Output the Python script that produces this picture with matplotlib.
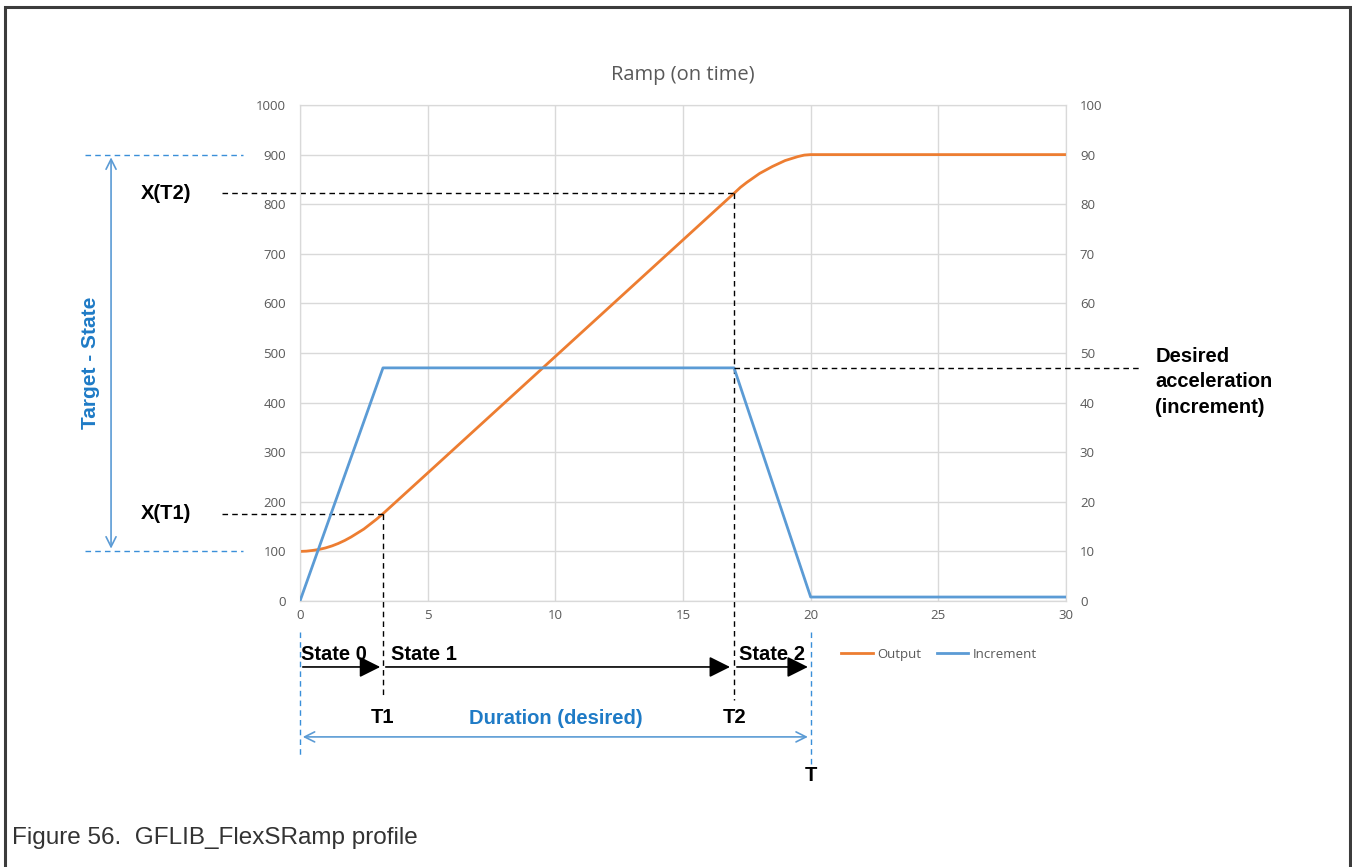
import matplotlib.pyplot as plt
from matplotlib.patches import Rectangle

# values
out_t = [0, 0.25, 0.5, 0.75, 1, 1.25, 1.5, 1.75, 2, 2.25, 2.5, 2.75, 3, 3.25, 5, 10, 15,
         17, 17.25, 17.5, 17.75, 18, 18.25, 18.5, 18.75, 19, 19.25, 19.5, 19.75, 20, 25, 30]
out_y = [100, 100.5, 102, 104, 107, 111, 116, 122, 129, 137, 145, 155, 165, 176, 258, 493, 728,
         822, 834, 844, 853, 862, 869, 876, 882, 888, 892, 896, 899, 900, 900, 900]
inc_t = [0, 3.25, 17.0, 20.0, 30]
inc_y = [0, 47, 47, 0.8, 0.8]

T1, T2, T_END = 3.25, 17.0, 20.0
X1, X2 = 176, 822
START, TARGET = 100, 900
INC_LEVEL = 47

ORANGE = '#ED7D31'
BLUE = '#5B9BD5'
DASH_BLUE = '#3A8FD9'
TXT_BLUE = '#1F7BC6'
GRID = '#D9D9D9'
GRAY = '#595959'

fig = plt.figure(figsize=(13.52, 8.67), dpi=100)
ax = fig.add_axes([300 / 1352, 1 - 601 / 867, 766 / 1352, 496 / 867])
ax2 = ax.twinx()

ax.plot(out_t, out_y, color=ORANGE, lw=2, label='Output', zorder=3)
ax2.plot(inc_t, inc_y, color=BLUE, lw=2, label='Increment', zorder=3)

ax.set_xlim(0, 30)
ax.set_ylim(0, 1000)
ax2.set_ylim(0, 100)
ax.set_xticks(range(0, 31, 5))
ax.set_yticks(range(0, 1001, 100))
ax2.set_yticks(range(0, 101, 10))
ax.grid(True, color=GRID, lw=1)
ax.set_axisbelow(True)
for a in (ax, ax2):
    for s in a.spines.values():
        s.set_color(GRID)
    a.tick_params(length=0, labelcolor=GRAY, labelsize=9.5)
    for lbl in a.get_yticklabels() + a.get_xticklabels():
        lbl.set_family('Open Sans')
ax.spines['bottom'].set_color('#BFBFBF')
ax.tick_params(axis='y', pad=10)
ax2.tick_params(axis='y', pad=10)
ax.tick_params(axis='x', pad=6)
ax.set_title('Ramp (on time)', color=GRAY, fontsize=14.5, family='Open Sans', pad=18)

lines = ax.get_lines() + ax2.get_lines()
leg = ax.legend(lines, [l.get_label() for l in lines], loc='center', bbox_to_anchor=(0.834, -0.108),
                ncol=2, frameon=False, handlelength=2.4, columnspacing=1.2, handletextpad=0.3,
                prop={'family': 'Open Sans', 'size': 9.5})
for t in leg.get_texts():
    t.set_color(GRAY)

kw = dict(clip_on=False, zorder=4)
bold = dict(fontsize=14.5, fontweight='bold', family='Liberation Sans', **kw)

# Target - State bracket (left)
ax.plot([-8.42, -2.23], [TARGET, TARGET], ls=(0, (4, 3)), color=DASH_BLUE, lw=1, **kw)
ax.plot([-8.42, -2.23], [START, START], ls=(0, (4, 3)), color=DASH_BLUE, lw=1, **kw)
ax.annotate('', xy=(-7.4, TARGET), xytext=(-7.4, START),
            arrowprops=dict(arrowstyle='<->', color=BLUE, lw=1.2, mutation_scale=18), annotation_clip=False)
ax.text(-8.22, 480, 'Target - State', rotation=90, color=TXT_BLUE, ha='center', va='center',
        fontsize=15, fontweight='bold', family='Liberation Sans', clip_on=False)

# X(T1), X(T2)
ax.plot([-3.05, T2], [X2, X2], ls=(0, (4, 3)), color='black', lw=1, **kw)
ax.plot([-3.05, T1], [X1, X1], ls=(0, (4, 3)), color='black', lw=1, **kw)
ax.text(-5.25, X2, 'X(T2)', ha='center', va='center', **bold)
ax.text(-5.25, X1, 'X(T1)', ha='center', va='center', **bold)

# vertical markers
ax.plot([T1, T1], [X1, -190], ls=(0, (4, 3)), color='black', lw=1, **kw)
ax.plot([T2, T2], [X2, -200], ls=(0, (4, 3)), color='black', lw=1, **kw)
ax.plot([0, 0], [-62, -310], ls=(0, (4, 3)), color=DASH_BLUE, lw=1, **kw)
ax.plot([T_END, T_END], [-62, -337], ls=(0, (4, 3)), color=DASH_BLUE, lw=1, **kw)

# desired acceleration
ax2.plot([T2, 32.9], [INC_LEVEL, INC_LEVEL], ls=(0, (4, 3)), color='black', lw=1, **kw)
ax.text(33.5, 512, 'Desired\nacceleration\n(increment)', ha='left', va='top', linespacing=1.42,
        fontsize=14.5, fontweight='bold', family='Liberation Sans', clip_on=False)

# state arrows
for a, b in [(0, T1), (T1, T2 - 0.05), (T2, T_END)]:
    ax.annotate('', xy=(b, -133), xytext=(a, -133),
                arrowprops=dict(arrowstyle='-|>', color='black', lw=1.2, mutation_scale=32),
                annotation_clip=False)
for x, s in [(0.05, 'State 0'), (3.55, 'State 1'), (17.2, 'State 2')]:
    ax.text(x, -107, s, ha='left', va='center', **bold)
ax.text(T1, -234, 'T1', ha='center', va='center', **bold)
ax.text(T2, -234, 'T2', ha='center', va='center', **bold)
ax.text(T_END, -351, 'T', ha='center', va='center', **bold)

# duration
ax.annotate('', xy=(T_END, -274), xytext=(0, -274),
            arrowprops=dict(arrowstyle='<->', color=BLUE, lw=1.2, mutation_scale=18), annotation_clip=False)
ax.text(10, -236, 'Duration (desired)', ha='center', va='center', color=TXT_BLUE,
        fontsize=14.5, fontweight='bold', family='Liberation Sans', clip_on=False)

# frame and caption
fig.patches.append(Rectangle((4.5 / 1352, -0.1), 1345.5 / 1352, 1.1 - 6.5 / 867, transform=fig.transFigure,
                             fill=False, edgecolor='#3C3C3C', lw=2.2))
fig.text(12 / 1352, 1 - 838 / 867, 'Figure 56.  GFLIB_FlexSRamp profile', ha='left', va='center',
         fontsize=17.5, family='Liberation Sans', color='#333333')

fig.savefig('out.png', dpi=100)
